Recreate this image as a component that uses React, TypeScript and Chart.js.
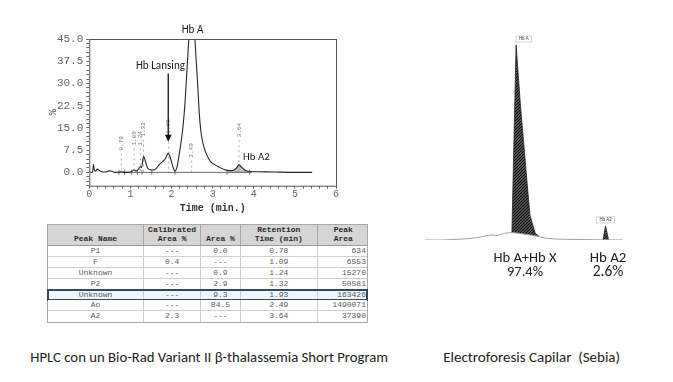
import React, { useEffect, useLayoutEffect, useRef } from "react";
import { Chart, registerables } from "chart.js";
Chart.register(...registerables);

// ---------------- HPLC chromatogram data ----------------
const hplcTime = [0.03,0.08,0.10,0.12,0.15,0.20,0.24,0.30,0.40,0.48,0.55,0.62,0.70,0.78,0.85,0.95,1.02,1.09,1.14,1.20,1.24,1.27,1.32,1.37,1.42,1.48,1.55,1.62,1.70,1.78,1.85,1.92,1.98,2.03,2.08,2.13,2.19,2.23,2.27,2.32,2.36,2.42,2.46,2.50,2.54,2.57,2.63,2.67,2.71,2.77,2.84,2.95,3.05,3.14,3.28,3.42,3.52,3.58,3.64,3.70,3.78,3.90,4.10,4.50,5.00,5.42];
const hplcPercent = [0.1,0.0,2.6,1.0,0.4,1.1,0.7,0.2,0.1,0.5,0.4,0.0,0.0,0.2,0.0,0.0,0.2,0.8,0.5,1.2,2.0,1.6,5.4,3.5,1.4,0.9,0.8,1.2,2.6,3.6,4.6,6.4,4.5,2.0,0.5,1.6,6.4,10.0,14.3,22.0,31.0,45.0,56.0,60.0,56.0,45.0,31.0,21.0,14.3,9.5,6.4,3.6,2.6,1.9,1.0,0.6,0.8,1.5,2.6,1.8,0.8,0.3,0.2,0.1,0.0,0.0];
const baselineTime = [0.72, 3.95];
const baselineLevel = [0, 0];
const a2AreaTime = [3.35, 3.42, 3.52, 3.58, 3.64, 3.70, 3.78, 3.90];
const a2AreaPercent = [0.0, 0.6, 0.8, 1.5, 2.6, 1.8, 0.8, 0.0];
const retentionTimes = [0.78, 1.09, 1.24, 1.32, 1.93, 2.49, 3.64];
const retentionLabelLevel = [9.8, 11.5, 11.5, 14.5, 15.5, 7.4, 14.3];
const integrationMarks = [0.72, 0.86, 1.03, 1.17, 1.28, 1.52, 2.08, 3.35, 3.90];
const xTickStep = 0.2;
const yTickStep = 1.5;
const yLabelEvery = 7.5;

// annotation anchors (data units)
const noteHbA = { t: 2.51, v: 48.1, text: "Hb A" };
const noteLansing = { t: 1.73, v: 35.7, text: "Hb Lansing" };
const noteA2 = { t: 3.74, v: 5.1, text: "Hb A2" };
const arrowLansing = { t: 1.92, from: 33.4, to: 10.3 };

// ---------------- Table data ----------------
const tableHeaders = [["Peak Name"], ["Calibrated", "Area %"], ["Area %"], ["Retention", "Time (min)"], ["Peak", "Area"]];
const peakNames = ["P1", "F", "Unknown", "P2", "Unknown", "Ao", "A2"];
const calibratedArea = ["---", "0.4", "---", "---", "---", "---", "2.3"];
const areaPercent = ["0.0", "---", "0.9", "2.9", "9.3", "84.5", "---"];
const retentionTime = ["0.78", "1.09", "1.24", "1.32", "1.93", "2.49", "3.64"];
const peakArea = [634, 6553, 15270, 50581, 163426, 1490071, 37390];
const highlightedRow = 4;

// ---------------- Capillary electrophoresis data ----------------
const elecTracePos = [0, 7.6, 15.2, 22.7, 27.8, 31.3, 33.8, 36.4, 38.9, 41.4, 43.9, 50.5, 57.6, 60.6, 65.7, 73.2, 83.3, 89.9, 92.7, 100];
const elecTraceLevel = [0, 0, 0.3, 0.8, 1.5, 2.3, 2.6, 2.3, 3.1, 3.6, 3.8, 3.0, 1.8, 1.0, 0.5, 0.3, 0.2, 0.1, 0.1, 0];
const hbAPeakPos = [43.9, 46.0, 48.2, 51.0, 53.0, 55.6, 57.6];
const hbAPeakLevel = [3.8, 100, 69.2, 35.9, 12.8, 3.6, 1.8];
const hbA2PeakPos = [89.9, 91.2, 92.7];
const hbA2PeakLevel = [0.1, 7.2, 0.1];
const elecPeakTags = ["Hb A", "Hb A2"];

const MONO = '"Liberation Mono", "DejaVu Sans Mono", monospace';
const SANS = 'Carlito, "Open Sans", "Liberation Sans", sans-serif';

function fitFont(ctx: CanvasRenderingContext2D, text: string, target: number, family: string, weight = "") {
  ctx.font = `${weight} 20px ${family}`;
  const w = ctx.measureText(text).width || 1;
  return `${weight} ${((20 * target) / w).toFixed(2)}px ${family}`;
}

const hplcPlugin = {
  id: "hplcDecor",
  beforeDatasetsDraw(chart: any) {
    const { ctx, scales } = chart;
    const x = scales.x, y = scales.y;
    ctx.save();
    ctx.font = `6px ${MONO}`;
    ctx.fillStyle = "#777";
    ctx.strokeStyle = "#999";
    ctx.lineWidth = 0.8;
    retentionTimes.forEach((rt, i) => {
      const px = x.getPixelForValue(rt);
      const py = y.getPixelForValue(retentionLabelLevel[i]);
      const label = rt.toFixed(2);
      const w = ctx.measureText(label).width;
      ctx.save();
      ctx.translate(px, py);
      ctx.rotate(-Math.PI / 2);
      ctx.textAlign = "center";
      ctx.textBaseline = "middle";
      ctx.fillText(label, 0, 0);
      ctx.restore();
      ctx.setLineDash([2, 3]);
      ctx.beginPath();
      ctx.moveTo(px, py + w / 2 + 3);
      ctx.lineTo(px, y.getPixelForValue(0));
      ctx.stroke();
    });
    ctx.setLineDash([]);
    ctx.strokeStyle = "#555";
    integrationMarks.forEach((t) => {
      const px = x.getPixelForValue(t);
      const py = y.getPixelForValue(0);
      ctx.beginPath();
      ctx.moveTo(px, py - 2.5);
      ctx.lineTo(px, py + 2.5);
      ctx.stroke();
    });
    ctx.restore();
  },
  afterDatasetsDraw(chart: any) {
    const { ctx, chartArea, scales } = chart;
    const x = scales.x, y = scales.y;
    ctx.save();
    ctx.strokeStyle = "#555";
    ctx.lineWidth = 1;
    ctx.strokeRect(chartArea.left + 0.5, chartArea.top + 0.5, chartArea.right - chartArea.left, chartArea.bottom - chartArea.top);
    ctx.fillStyle = "#1a1a1a";
    ctx.textBaseline = "middle";
    ctx.textAlign = "center";
    ctx.font = fitFont(ctx, noteHbA.text, 21.7, SANS);
    ctx.fillText(noteHbA.text, x.getPixelForValue(noteHbA.t), y.getPixelForValue(noteHbA.v));
    ctx.font = fitFont(ctx, noteLansing.text, 49, SANS);
    ctx.fillText(noteLansing.text, x.getPixelForValue(noteLansing.t), y.getPixelForValue(noteLansing.v));
    ctx.textAlign = "left";
    ctx.font = fitFont(ctx, noteA2.text, 26.7, SANS);
    ctx.fillText(noteA2.text, x.getPixelForValue(noteA2.t), y.getPixelForValue(noteA2.v));
    const ax = x.getPixelForValue(arrowLansing.t);
    const ay0 = y.getPixelForValue(arrowLansing.from);
    const ay1 = y.getPixelForValue(arrowLansing.to);
    ctx.strokeStyle = "#111";
    ctx.lineWidth = 1.3;
    ctx.beginPath();
    ctx.moveTo(ax, ay0);
    ctx.lineTo(ax, ay1 - 6);
    ctx.stroke();
    ctx.fillStyle = "#111";
    ctx.beginPath();
    ctx.moveTo(ax - 3.4, ay1 - 7);
    ctx.lineTo(ax + 3.4, ay1 - 7);
    ctx.lineTo(ax, ay1);
    ctx.closePath();
    ctx.fill();
    ctx.restore();
  },
};

function HplcChart() {
  const ref = useRef<HTMLCanvasElement>(null);
  useEffect(() => {
    const chart = new Chart(ref.current as HTMLCanvasElement, {
      type: "line",
      data: {
        datasets: [
          {
            data: hplcTime.map((t, i) => ({ x: t, y: hplcPercent[i] })),
            borderColor: "#262626",
            borderWidth: 1.1,
            pointRadius: 0,
            cubicInterpolationMode: "monotone",
            fill: false,
          },
          {
            data: baselineTime.map((t, i) => ({ x: t, y: baselineLevel[i] })),
            borderColor: "#555",
            borderWidth: 0.9,
            pointRadius: 0,
            fill: false,
          },
          {
            data: a2AreaTime.map((t, i) => ({ x: t, y: a2AreaPercent[i] })),
            borderWidth: 0,
            borderColor: "rgba(0,0,0,0)",
            backgroundColor: "rgba(140,140,140,0.55)",
            pointRadius: 0,
            cubicInterpolationMode: "monotone",
            fill: "origin",
          },
        ],
      } as any,
      options: {
        responsive: false,
        animation: false,
        layout: { padding: { top: 19, right: 14, left: 0, bottom: 0 } },
        plugins: { legend: { display: false }, tooltip: { enabled: false } },
        scales: {
          x: {
            type: "linear",
            min: 0,
            max: 6,
            border: { display: false },
            grid: { drawOnChartArea: false, tickLength: 3, color: "#666" },
            ticks: {
              stepSize: xTickStep,
              autoSkip: false,
              maxRotation: 0,
              padding: 0,
              color: "#666",
              font: { family: MONO, size: 10 },
              callback: (v: any) => (Math.abs(v - Math.round(v)) < 1e-6 ? String(Math.round(v)) : ""),
            },
            title: {
              display: true,
              text: "Time (min.)",
              color: "#333",
              font: { family: MONO, size: 10, weight: "bold" },
              padding: { top: 0, bottom: 6 },
            },
            afterFit: (s: any) => {
              s.height = 34.3;
            },
          },
          y: {
            type: "linear",
            min: -4.5,
            max: 45,
            border: { display: false },
            grid: { drawOnChartArea: false, tickLength: 3, color: "#666" },
            ticks: {
              stepSize: yTickStep,
              autoSkip: false,
              padding: 3,
              color: "#666",
              font: { family: MONO, size: 11 },
              callback: (v: any) => {
                const k = v / yLabelEvery;
                return v >= 0 && Math.abs(k - Math.round(k)) < 1e-6 ? Number(v).toFixed(1) : "";
              },
            },
            title: {
              display: true,
              text: "%",
              color: "#555",
              font: { family: MONO, size: 10 },
              padding: { top: 17, bottom: 0 },
            },
            afterFit: (s: any) => {
              s.width = 59.3;
            },
          },
        },
      } as any,
      plugins: [hplcPlugin],
    });
    return () => chart.destroy();
  }, []);
  return <canvas ref={ref} width={320} height={200} style={{ position: "absolute", left: 30, top: 20, width: 320, height: 200 }} />;
}

const elecPlugin = {
  id: "elecTags",
  afterDatasetsDraw(chart: any) {
    const { ctx, scales } = chart;
    const x = scales.x, y = scales.y;
    const tops = [
      { t: elecPeakTags[0], px: x.getPixelForValue(hbAPeakPos[1]), py: y.getPixelForValue(hbAPeakLevel[1]), w: 15.7, dx: 7.8 },
      { t: elecPeakTags[1], px: x.getPixelForValue(hbA2PeakPos[1]), py: y.getPixelForValue(hbA2PeakLevel[1]), w: 18.3, dx: 0 },
    ];
    ctx.save();
    tops.forEach((o) => {
      const cx = o.px + o.dx;
      const bottom = o.py - 3;
      ctx.fillStyle = "#fff";
      ctx.fillRect(cx - o.w / 2, bottom - 6, o.w, 6);
      ctx.strokeStyle = "#bbb";
      ctx.lineWidth = 0.6;
      ctx.strokeRect(cx - o.w / 2, bottom - 6, o.w, 6);
      ctx.fillStyle = "#444";
      ctx.font = `5px ${SANS}`;
      ctx.textAlign = "center";
      ctx.textBaseline = "middle";
      ctx.fillText(o.t, cx, bottom - 3);
    });
    ctx.restore();
  },
};

function ElectroChart() {
  const ref = useRef<HTMLCanvasElement>(null);
  useEffect(() => {
    const pc = document.createElement("canvas");
    pc.width = 3;
    pc.height = 3;
    const p = pc.getContext("2d") as CanvasRenderingContext2D;
    p.fillStyle = "#9a9a9a";
    p.fillRect(0, 0, 3, 3);
    p.strokeStyle = "#0d0d0d";
    p.lineWidth = 1.5;
    p.beginPath();
    p.moveTo(-1, 4); p.lineTo(4, -1);
    p.moveTo(-1, 1); p.lineTo(1, -1);
    p.moveTo(2, 4); p.lineTo(4, 2);
    p.stroke();
    const ctx0 = (ref.current as HTMLCanvasElement).getContext("2d") as CanvasRenderingContext2D;
    const hatch = ctx0.createPattern(pc, "repeat");
    const chart = new Chart(ref.current as HTMLCanvasElement, {
      type: "line",
      data: {
        datasets: [
          {
            data: elecTracePos.map((u, i) => ({ x: u, y: elecTraceLevel[i] })),
            borderColor: "#a0a0a0",
            borderWidth: 1,
            pointRadius: 0,
            tension: 0.2,
            fill: false,
          },
          {
            data: hbAPeakPos.map((u, i) => ({ x: u, y: hbAPeakLevel[i] })),
            borderColor: "#222",
            borderWidth: 0.8,
            backgroundColor: hatch,
            pointRadius: 0,
            tension: 0,
            fill: 0,
          },
          {
            data: hbA2PeakPos.map((u, i) => ({ x: u, y: hbA2PeakLevel[i] })),
            borderColor: "#222",
            borderWidth: 0.8,
            backgroundColor: hatch,
            pointRadius: 0,
            tension: 0,
            fill: 0,
          },
        ],
      } as any,
      options: {
        responsive: false,
        animation: false,
        layout: { padding: { left: 10, right: 12, top: 25, bottom: 10 } },
        plugins: { legend: { display: false }, tooltip: { enabled: false } },
        scales: {
          x: { type: "linear", min: 0, max: 100, display: false },
          y: { type: "linear", min: 0, max: 100, display: false },
        },
      } as any,
      plugins: [elecPlugin],
    });
    return () => chart.destroy();
  }, []);
  return <canvas ref={ref} width={220} height={230} style={{ position: "absolute", left: 415, top: 20, width: 220, height: 230 }} />;
}

function FitText({ text, cx, cy, width, size, color = "#222", family = SANS }: any) {
  const ref = useRef<HTMLSpanElement>(null);
  useLayoutEffect(() => {
    const el = ref.current as HTMLSpanElement;
    el.style.fontSize = size + "px";
    const w = el.getBoundingClientRect().width || 1;
    el.style.fontSize = ((size * width) / w).toFixed(2) + "px";
  }, []);
  return (
    <span
      ref={ref}
      style={{
        position: "absolute",
        left: cx,
        top: cy,
        transform: "translate(-50%, -50%)",
        whiteSpace: "pre",
        fontFamily: family,
        color,
        lineHeight: 1,
      }}
    >
      {text}
    </span>
  );
}

const colWidths = [96.6, 56.7, 40, 76.7, 51.3];
const headerHeight = 20.7;
const rowHeight = 10.9;

function PeakTable() {
  const rows = peakNames.map((n, i) => [n, calibratedArea[i], areaPercent[i], retentionTime[i], String(peakArea[i])]);
  return (
    <div
      style={{
        position: "absolute",
        left: 46.7,
        top: 224.3,
        width: 321.3,
        border: "1px solid #a8a8a8",
        boxSizing: "border-box",
        fontFamily: MONO,
        background: "#fff",
      }}
    >
      <div style={{ display: "flex", height: headerHeight, background: "#d5d5d5", borderBottom: "1px solid #9a9a9a", boxSizing: "border-box" }}>
        {tableHeaders.map((h, j) => (
          <div
            key={j}
            style={{
              width: colWidths[j],
              flex: "none",
              boxSizing: "border-box",
              borderRight: j < 4 ? "1px solid #a8a8a8" : "none",
              display: "flex",
              flexDirection: "column",
              justifyContent: "flex-end",
              alignItems: "center",
              paddingBottom: 2,
              fontSize: 8,
              fontWeight: "bold",
              lineHeight: "9px",
              color: "#2a2a2a",
            }}
          >
            {h.map((line, k) => (
              <div key={k} style={{ whiteSpace: "pre" }}>{line}</div>
            ))}
          </div>
        ))}
      </div>
      {rows.map((r, i) => (
        <div
          key={i}
          style={{
            display: "flex",
            height: rowHeight,
            boxSizing: "border-box",
            borderBottom: i < rows.length - 1 ? "1px solid #cfcfcf" : "none",
            background: i === highlightedRow ? "#eef6fa" : "#fff",
            outline: i === highlightedRow ? "2px solid #2e4a5c" : "none",
            outlineOffset: -1,
            position: "relative",
          }}
        >
          {r.map((c, j) => (
            <div
              key={j}
              style={{
                width: colWidths[j],
                flex: "none",
                boxSizing: "border-box",
                borderRight: j < 4 ? "1px solid #cfcfcf" : "none",
                textAlign: j === 4 ? "right" : "center",
                paddingRight: j === 4 ? 3 : 0,
                fontSize: 8,
                lineHeight: rowHeight - 1 + "px",
                color: "#5a5a5a",
                whiteSpace: "pre",
              }}
            >
              {c}
            </div>
          ))}
        </div>
      ))}
    </div>
  );
}

export default function App() {
  return (
    <div style={{ position: "fixed", left: 0, top: 0, width: 673, height: 382, background: "#fff", overflow: "hidden" }}>
      <HplcChart />
      <PeakTable />
      <ElectroChart />
      <FitText text="Hb A+Hb X" cx={525} cy={256.7} width={63} size={14} />
      <FitText text="97.4%" cx={525} cy={270.7} width={36} size={14} />
      <FitText text="Hb A2" cx={608} cy={256.7} width={36.7} size={14} />
      <FitText text="2.6%" cx={608} cy={270.7} width={30.7} size={14} />
      <FitText text="HPLC con un Bio-Rad Variant II β-thalassemia Short Program" cx={209.2} cy={356.7} width={358} size={12} />
      <FitText text="Electroforesis Capilar  (Sebia)" cx={531.7} cy={358} width={177} size={12} />
    </div>
  );
}
